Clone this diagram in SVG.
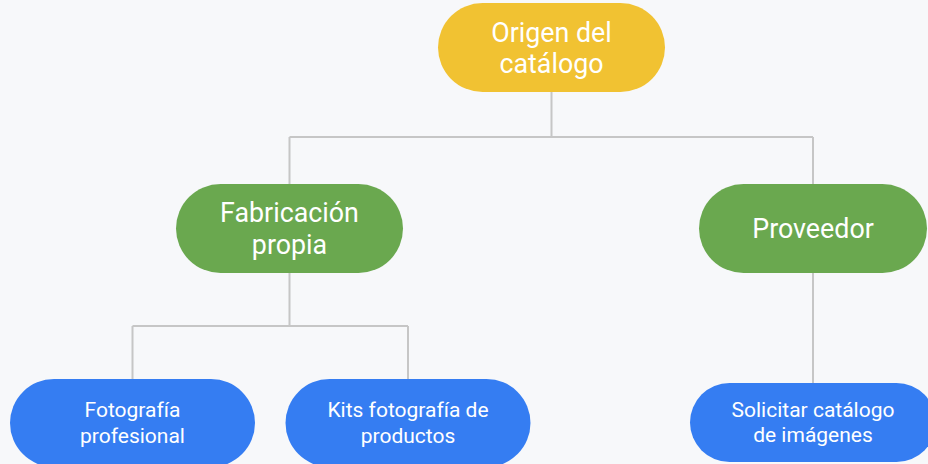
<svg xmlns="http://www.w3.org/2000/svg" width="928" height="464" viewBox="0 0 928 464">
<style>
.bg{fill:#F7F8FA}
.conn{fill:none;stroke:#C6C6C6;stroke-width:2}
.y{fill:#F1C232}
.g{fill:#6AA84F}
.b{fill:#357DF2}
.t{fill:#FFFFFF;font-family:Roboto,"Liberation Sans",sans-serif;text-anchor:middle}
.l{font-size:26.8px}
.s{font-size:21px}
</style>
<rect class="bg" x="0" y="0" width="928" height="464"/>
<g id="connectors">
<path class="conn" d="M551.5 92V137M289.5 137H813M289.5 137V184M813 137V184"/>
<path class="conn" d="M289.5 273V326M132.5 326H408M132.5 326V379M408 326V379"/>
<path class="conn" d="M813 273V383"/>
</g>
<g id="origen">
<rect class="y" x="438" y="3" width="227" height="89" rx="44.5"/>
<text class="t l" x="551.5" y="41.5">Origen del</text>
<text class="t l" x="551.5" y="73">catálogo</text>
</g>
<g id="fabricacion">
<rect class="g" x="176" y="184" width="227" height="89" rx="44.5"/>
<text class="t l" x="289.5" y="222">Fabricación</text>
<text class="t l" x="289.5" y="254">propia</text>
</g>
<g id="proveedor">
<rect class="g" x="699" y="184" width="228" height="89" rx="44.5"/>
<text class="t l" x="813" y="238">Proveedor</text>
</g>
<g id="fotografia">
<rect class="b" x="10" y="379" width="245" height="88" rx="44"/>
<text class="t s" x="132.5" y="416.5">Fotografía</text>
<text class="t s" x="132.5" y="442.5">profesional</text>
</g>
<g id="kits">
<rect class="b" x="285.5" y="379" width="245" height="88" rx="44"/>
<text class="t s" x="408" y="416.5">Kits fotografía de</text>
<text class="t s" x="408" y="442.5">productos</text>
</g>
<g id="solicitar">
<rect class="b" x="690" y="383" width="246" height="79" rx="39.5"/>
<text class="t s" x="813" y="416.5">Solicitar catálogo</text>
<text class="t s" x="813" y="442">de imágenes</text>
</g>
</svg>
